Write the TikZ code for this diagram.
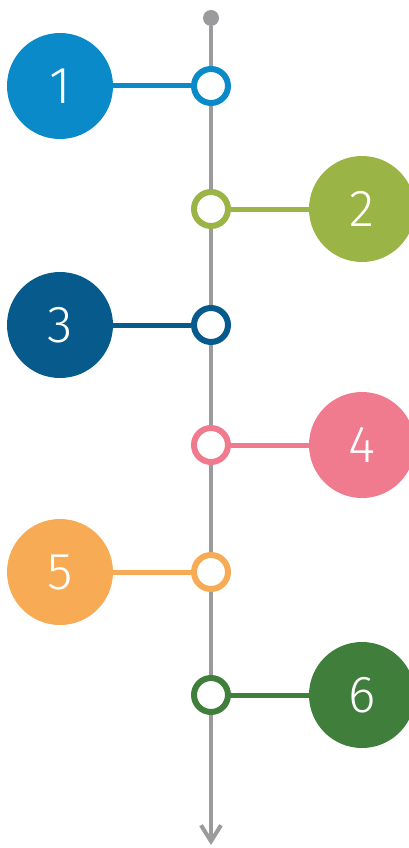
\documentclass[tikz,border=0pt]{standalone}
\usepackage{fontspec}
\setmainfont{Fira Sans}[UprightFont={* Light}]
\usepackage{tikz}
\usetikzlibrary{arrows.meta,backgrounds,positioning}

\definecolor{cOne}{HTML}{0A8AC9}
\definecolor{cTwo}{HTML}{9BB446}
\definecolor{cThree}{HTML}{075A8C}
\definecolor{cFour}{HTML}{F07A8E}
\definecolor{cFive}{HTML}{F7AB55}
\definecolor{cSix}{HTML}{3F7E3B}
\definecolor{axisgray}{HTML}{9B9B9E}

\begin{document}
\begin{tikzpicture}[x=1pt, y=-1pt]
		\tikzstyle{Badge}	= [circle, minimum size=106pt, inner sep=0pt, text=white, font=\fontsize{52}{52}\selectfont]
		\tikzstyle{Ring}	= [circle, draw, fill=white, minimum size=34pt, inner sep=0pt, line width=6pt]
		\tikzstyle{Link}	= [line width=5pt]
		\tikzstyle{Axis}	= [line width=4pt, axisgray]

		\useasboundingbox (0, 0) rectangle (409, 848);

		\node (top) at (211, 18) [circle, fill=axisgray, minimum size=16pt, inner sep=0pt]{};
		\coordinate (end) at (211, 845);

		\node (b1) at (60, 86) [Badge, fill=cOne]{1};
		\node (b2) at (362, 209) [Badge, fill=cTwo]{2};
		\node (b3) at (60, 325) [Badge, fill=cThree]{3};
		\node (b4) at (362, 445) [Badge, fill=cFour]{4};
		\node (b5) at (60, 572) [Badge, fill=cFive]{5};
		\node (b6) at (362, 695) [Badge, fill=cSix]{6};

		\node (r1) at (211, 86) [Ring, draw=cOne]{};
		\node (r2) at (211, 209) [Ring, draw=cTwo]{};
		\node (r3) at (211, 325) [Ring, draw=cThree]{};
		\node (r4) at (211, 445) [Ring, draw=cFour]{};
		\node (r5) at (211, 572) [Ring, draw=cFive]{};
		\node (r6) at (211, 695) [Ring, draw=cSix]{};

		\begin{scope}[on background layer]
			\draw [-{Straight Barb[length=16pt, width=20pt]}] (top) to (end) [Axis];
			\draw [-] (b1) to (r1) [Link, cOne];
			\draw [-] (b2) to (r2) [Link, cTwo];
			\draw [-] (b3) to (r3) [Link, cThree];
			\draw [-] (b4) to (r4) [Link, cFour];
			\draw [-] (b5) to (r5) [Link, cFive];
			\draw [-] (b6) to (r6) [Link, cSix];
		\end{scope}
	\end{tikzpicture}
\end{document}
